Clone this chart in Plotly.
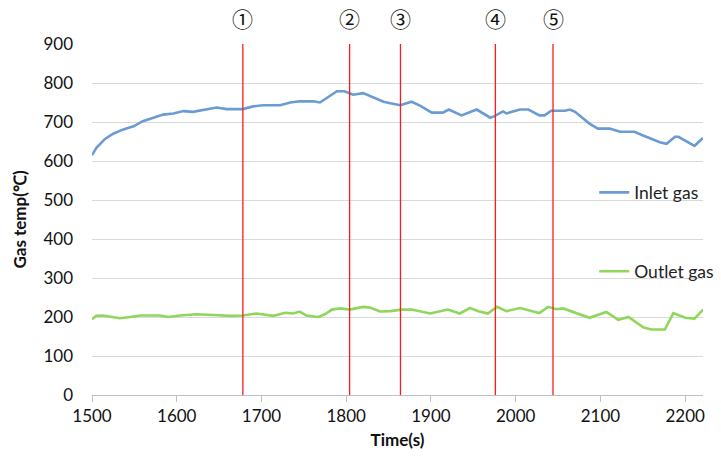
import plotly.graph_objects as go

# Inlet gas temperature (time s, temp °C)
inlet_t = [1500, 1505, 1515, 1525, 1537, 1549, 1560, 1572, 1584, 1596, 1608, 1619, 1631, 1647,
           1659, 1678, 1690, 1702, 1722, 1734, 1745, 1761, 1769, 1777, 1789, 1798, 1808, 1820,
           1832, 1844, 1852, 1864, 1877, 1887, 1901, 1914, 1921, 1936, 1954, 1970, 1975, 1985,
           1989, 2005, 2015, 2028, 2034, 2042, 2058, 2064, 2070, 2087, 2097, 2111, 2123, 2140,
           2154, 2170, 2178, 2188, 2192, 2211, 2221]
inlet_v = [615, 633, 656, 670, 681, 689, 702, 711, 719, 722, 728, 726, 731, 737,
           733, 733, 740, 743, 743, 750, 753, 753, 750, 761, 779, 779, 770, 774,
           763, 752, 748, 743, 752, 742, 724, 724, 732, 717, 732, 711, 715, 727,
           722, 732, 732, 717, 717, 729, 729, 732, 726, 696, 683, 683, 675, 675,
           662, 648, 644, 662, 662, 639, 659]

# Outlet gas temperature
outlet_t = [1500, 1505, 1513, 1525, 1533, 1545, 1557, 1580, 1590, 1604, 1623, 1643, 1663, 1678,
            1694, 1714, 1728, 1737, 1745, 1753, 1767, 1775, 1783, 1793, 1804, 1820, 1828, 1840,
            1852, 1865, 1877, 1899, 1911, 1920, 1934, 1946, 1956, 1967, 1978, 1989, 2005, 2019,
            2028, 2038, 2048, 2056, 2072, 2087, 2107, 2121, 2133, 2151, 2160, 2176, 2186, 2200,
            2211, 2221]
outlet_v = [194, 203, 204, 200, 197, 200, 204, 204, 200, 204, 207, 205, 203, 204,
            209, 203, 211, 209, 214, 204, 200, 207, 219, 222, 219, 226, 224, 214,
            215, 219, 219, 209, 215, 219, 209, 223, 215, 209, 226, 215, 223, 215,
            210, 226, 220, 222, 209, 198, 213, 193, 200, 173, 168, 168, 210, 198,
            196, 219]

# Event markers
event_t = [1678, 1804, 1864, 1976, 2044]
event_labels = ["①", "②", "③", "④", "⑤"]

x_ticks = [1500, 1600, 1700, 1800, 1900, 2000, 2100, 2200]
y_ticks = [0, 100, 200, 300, 400, 500, 600, 700, 800, 900]

FONT = "Lato, 'Open Sans', sans-serif"

fig = go.Figure()
fig.add_trace(go.Scatter(x=inlet_t, y=inlet_v, mode="lines", name="Inlet gas",
                         line=dict(color="#6b9bd3", width=2.6), legend="legend",
                         showlegend=True))
fig.add_trace(go.Scatter(x=outlet_t, y=outlet_v, mode="lines", name="Outlet gas",
                         line=dict(color="#8fd75a", width=2.6), legend="legend2",
                         showlegend=True))

for t, lab in zip(event_t, event_labels):
    fig.add_shape(type="line", xref="x", yref="paper", x0=t, x1=t, y0=0, y1=1,
                  line=dict(color="#ff1a1a", width=1.3), layer="above")
    fig.add_annotation(x=t, xref="x", y=1, yref="paper", yanchor="middle", yshift=26,
                       text=lab, showarrow=False,
                       font=dict(family="'Noto Sans CJK JP', sans-serif", size=21, color="#111"))

legend_common = dict(bgcolor="rgba(0,0,0,0)", font=dict(family=FONT, size=17.5, color="#222"),
                     itemwidth=30, xanchor="left", yanchor="middle", tracegroupgap=0)

fig.update_layout(
    width=721, height=466,
    showlegend=True,
    margin=dict(l=92, r=18, t=44, b=71, autoexpand=False),
    paper_bgcolor="white", plot_bgcolor="white",
    font=dict(family=FONT, size=16, color="#111"),
    legend=dict(x=0.822, y=0.577, **legend_common),
    legend2=dict(x=0.822, y=0.352, **legend_common),
    xaxis=dict(range=[1500, 2221], tickvals=x_ticks, showgrid=False, zeroline=False,
               showline=True, linecolor="#bfbfbf", linewidth=1,
               ticks="outside", ticklen=6, tickcolor="#bfbfbf",
               tickfont=dict(family=FONT, size=17, color="#111"),
               title=dict(text="<b>Time(s)</b>", font=dict(family=FONT, size=17, color="#111"),
                          standoff=8)),
    yaxis=dict(range=[0, 900], tickvals=y_ticks, showgrid=True, gridcolor="#d9d9d9",
               gridwidth=1, zeroline=False, showline=False, ticks="",
               ticklabelstandoff=18,
               tickfont=dict(family=FONT, size=17, color="#111"),
               title=dict(text="<b>Gas temp(℃)</b>", font=dict(family=FONT, size=17, color="#111"),
                          standoff=12)),
)

fig.write_html("out.html", config={"displayModeBar": False},
               post_script="document.body.style.margin='0';")
